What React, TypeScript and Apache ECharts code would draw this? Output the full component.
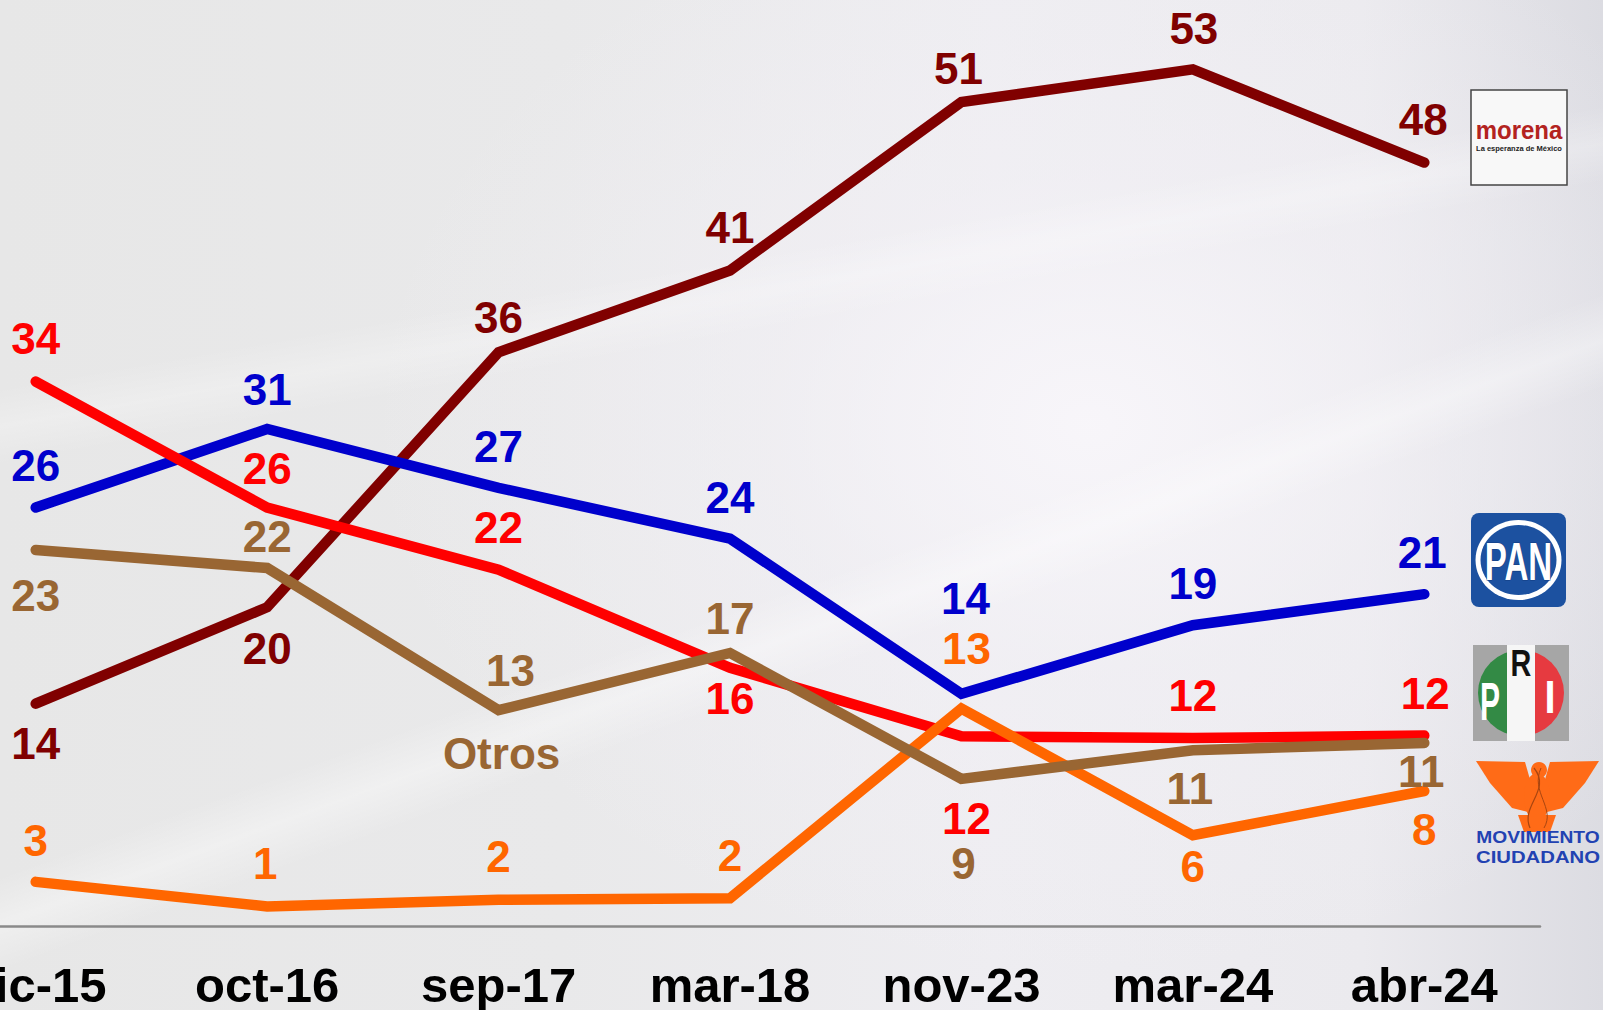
import React, { useEffect, useRef } from "react";
import * as echarts from "echarts";

const categories = ["dic-15", "oct-16", "sep-17", "mar-18", "nov-23", "mar-24", "abr-24"];

const morenaValues = [14.2, 20.1, 35.7, 40.7, 51.0, 53.0, 47.3];
const morenaLabels = ["14", "20", "36", "41", "51", "53", "48"];
const panValues = [26.2, 31.0, 27.4, 24.3, 14.8, 19.0, 20.9];
const panLabels = ["26", "31", "27", "24", "14", "19", "21"];
const priValues = [33.9, 26.2, 22.4, 16.4, 12.2, 12.1, 12.25];
const priLabels = ["34", "26", "22", "16", "12", "12", "12"];
const mcValues = [3.3, 1.8, 2.2, 2.3, 13.9, 6.15, 8.86];
const mcLabels = ["3", "1", "2", "2", "13", "6", "8"];
const otrosValues = [23.6, 22.5, 13.8, 17.3, 9.6, 11.35, 11.8];
const otrosLabels = ["23", "22", "13", "17", "9", "11", "11"];
const otrosName = "Otros";

// label placement (layout only)
const morenaOffsets = [[0, 40], [0, 41], [0, -35], [0, -43], [-3, -34], [1, -41], [-1, -43]];
const panOffsets = [[0, -42], [0, -40], [0, -41], [0, -41], [4, -95], [0, -42], [-2, -42]];
const priOffsets = [[0, -43], [0, -39], [0, -42], [0, 31], [5, 82], [0, -43], [1, -42]];
const mcOffsets = [[0, -41], [-2, -43], [0, -43], [0, -43], [5, -60], [0, 31], [0, 39]];
const otrosOffsets = [[0, 45], [0, -31], [12, -40], [0, -34], [2, 85], [-3, 38], [-3, 29]];

const FONT = "'Liberation Sans', Arial, Helvetica, sans-serif";

function makeSeries(name: string, values: number[], labels: string[], offsets: number[][], color: string, extra: any = {}) {
  return {
    name,
    type: "line",
    data: values.map((v, i) => ({
      value: v,
      label: { offset: offsets[i], formatter: labels[i] },
    })),
    symbol: "circle",
    symbolSize: 2,
    showSymbol: true,
    itemStyle: { color },
    lineStyle: { color, width: 10.5, cap: "round", join: "miter" },
    label: {
      show: true,
      position: "inside",
      color,
      fontSize: 44,
      lineHeight: 36,
      fontWeight: "bold",
      fontFamily: FONT,
    },
    emphasis: { disabled: true },
    ...extra,
  };
}

function logos() {
  const els: any[] = [];
  // Morena
  els.push({ type: "rect", shape: { x: 1471, y: 90, width: 96, height: 95 }, style: { fill: "#f8f8f8", stroke: "#444", lineWidth: 1.5 }, z: 10 });
  els.push({ type: "text", x: 1519, y: 130, scaleY: 1.1, style: { text: "morena", fill: "#b3231f", font: `bold 24px ${FONT}`, textAlign: "center", textVerticalAlign: "middle" }, z: 11 });
  els.push({ type: "text", x: 1519, y: 148, style: { text: "La esperanza de México", fill: "#222", font: `bold 7.5px ${FONT}`, textAlign: "center", textVerticalAlign: "middle" }, z: 11 });
  // PAN
  els.push({ type: "rect", shape: { x: 1471, y: 513, width: 95, height: 94, r: 8 }, style: { fill: "#1c51a0" }, z: 10 });
  els.push({ type: "ellipse", shape: { cx: 1518.5, cy: 560, rx: 43, ry: 40 }, style: { fill: "#ffffff" }, z: 11 });
  els.push({ type: "ellipse", shape: { cx: 1518.5, cy: 560, rx: 38, ry: 35 }, style: { fill: "#1c51a0" }, z: 12 });
  els.push({ type: "text", x: 1518.5, y: 561, scaleX: 0.72, scaleY: 1.15, style: { text: "PAN", fill: "#ffffff", font: `bold 46px ${FONT}`, textAlign: "center", textVerticalAlign: "middle", stroke: "#123d80", lineWidth: 1 }, z: 13 });
  // PRI
  els.push({ type: "rect", shape: { x: 1473, y: 645, width: 96, height: 96 }, style: { fill: "#a6a6a6" }, z: 10 });
  els.push({ type: "sector", shape: { cx: 1521, cy: 693, r0: 0, r: 43, startAngle: Math.PI / 2, endAngle: (3 * Math.PI) / 2 }, style: { fill: "#338a45" }, z: 11 });
  els.push({ type: "sector", shape: { cx: 1521, cy: 693, r0: 0, r: 43, startAngle: -Math.PI / 2, endAngle: Math.PI / 2 }, style: { fill: "#e63a40" }, z: 11 });
  els.push({ type: "rect", shape: { x: 1507, y: 645, width: 28, height: 96 }, style: { fill: "#f6f6f6" }, z: 12 });
  els.push({ type: "text", x: 1490, y: 701, scaleX: 0.75, scaleY: 1.35, style: { text: "P", fill: "#ffffff", font: `bold 40px ${FONT}`, textAlign: "center", textVerticalAlign: "middle" }, z: 13 });
  els.push({ type: "text", x: 1521, y: 663, scaleX: 0.8, scaleY: 1.05, style: { text: "R", fill: "#111111", font: `bold 36px ${FONT}`, textAlign: "center", textVerticalAlign: "middle" }, z: 13 });
  els.push({ type: "text", x: 1550, y: 697, scaleX: 1.0, scaleY: 1.15, style: { text: "I", fill: "#ffffff", font: `bold 40px ${FONT}`, textAlign: "center", textVerticalAlign: "middle" }, z: 13 });
  // Movimiento Ciudadano
  const orange = "#ff6b17";
  els.push({ type: "polygon", shape: { points: [[1476, 761], [1525, 762], [1533, 790], [1528, 812], [1512, 808], [1490, 783]] }, style: { fill: orange }, z: 10 });
  els.push({ type: "polygon", shape: { points: [[1599, 761], [1550, 762], [1542, 790], [1547, 812], [1563, 808], [1585, 783]] }, style: { fill: orange }, z: 10 });
  els.push({ type: "ellipse", shape: { cx: 1537, cy: 797, rx: 13, ry: 24 }, style: { fill: orange }, z: 11 });
  els.push({ type: "circle", shape: { cx: 1539, cy: 770, r: 8 }, style: { fill: orange }, z: 11 });
  els.push({ type: "polygon", shape: { points: [[1518, 815], [1556, 815], [1550, 832], [1524, 832]] }, style: { fill: orange }, z: 11 });
  els.push({ type: "bezierCurve", shape: { x1: 1534, y1: 768, x2: 1530, y2: 828, cpx1: 1552, cpy1: 790, cpx2: 1520, cpy2: 806 }, style: { stroke: "#a84510", lineWidth: 1.2, fill: null }, z: 12 });
  els.push({ type: "bezierCurve", shape: { x1: 1541, y1: 768, x2: 1544, y2: 828, cpx1: 1530, cpy1: 792, cpx2: 1556, cpy2: 808 }, style: { stroke: "#a84510", lineWidth: 1, fill: null }, z: 12 });
  els.push({ type: "text", x: 1538, y: 838, scaleX: 1.2, style: { text: "MOVIMIENTO", fill: "#2242b2", font: `bold 16px ${FONT}`, textAlign: "center", textVerticalAlign: "middle" }, z: 11 });
  els.push({ type: "text", x: 1538, y: 857, scaleX: 1.27, style: { text: "CIUDADANO", fill: "#2242b2", font: `bold 16px ${FONT}`, textAlign: "center", textVerticalAlign: "middle" }, z: 11 });
  return els;
}

export default function App() {
  const ref = useRef<HTMLDivElement>(null);
  useEffect(() => {
    if (!ref.current) return;
    const chart = echarts.init(ref.current, null, { renderer: "svg" });
    chart.setOption({
      animation: false,
      backgroundColor: "transparent",
      grid: { left: -80, right: 63, top: 4, bottom: 84, containLabel: false, outerBoundsMode: "none" },
      xAxis: {
        type: "category",
        data: categories,
        boundaryGap: true,
        axisLine: { show: true, lineStyle: { color: "#8a8a8a", width: 2.5 } },
        axisTick: { show: false },
        axisLabel: { interval: 0, color: "#000", fontSize: 49, fontWeight: "bold", fontFamily: FONT, margin: 34 },
        splitLine: { show: false },
      },
      yAxis: { type: "value", min: 0.6, max: 57, show: false, splitLine: { show: false } },
      series: [
        makeSeries("morena", morenaValues, morenaLabels, morenaOffsets, "#800000"),
        makeSeries("PAN", panValues, panLabels, panOffsets, "#0000cc"),
        makeSeries("PRI", priValues, priLabels, priOffsets, "#ff0000"),
        makeSeries("Movimiento Ciudadano", mcValues, mcLabels, mcOffsets, "#ff6600"),
        makeSeries(otrosName, otrosValues, otrosLabels, otrosOffsets, "#996633", {
          markPoint: {
            symbol: "circle",
            symbolSize: 1,
            itemStyle: { color: "rgba(0,0,0,0)" },
            label: { show: true, position: "inside", offset: [3, 43], formatter: otrosName, color: "#996633", fontSize: 44, lineHeight: 36, fontWeight: "bold", fontFamily: FONT },
            data: [{ coord: [2, otrosValues[2]] }],
          },
        }),
      ],
      graphic: logos(),
    });
    return () => chart.dispose();
  }, []);
  return (
    <div
      style={{
        position: "absolute",
        left: 0,
        top: 0,
        width: 1603,
        height: 1010,
        overflow: "hidden",
        background:
          "linear-gradient(160deg, rgba(255,255,255,0) 55%, rgba(255,255,255,0.35) 58%, rgba(255,255,255,0) 61%), " +
          "linear-gradient(170deg, rgba(255,255,255,0) 30%, rgba(255,255,255,0.25) 33%, rgba(255,255,255,0) 36%), " +
          "radial-gradient(ellipse 45% 55% at 68% 42%, rgba(248,246,250,0.95) 0%, rgba(242,240,245,0.55) 45%, rgba(232,232,232,0) 100%), " +
          "linear-gradient(90deg, #e7e7e7 0%, #e9e9ea 35%, #eeedf1 62%, #ebeaee 85%, #dcdce2 100%)",
      }}
    >
      <div ref={ref} style={{ width: 1603, height: 1010 }} />
    </div>
  );
}
